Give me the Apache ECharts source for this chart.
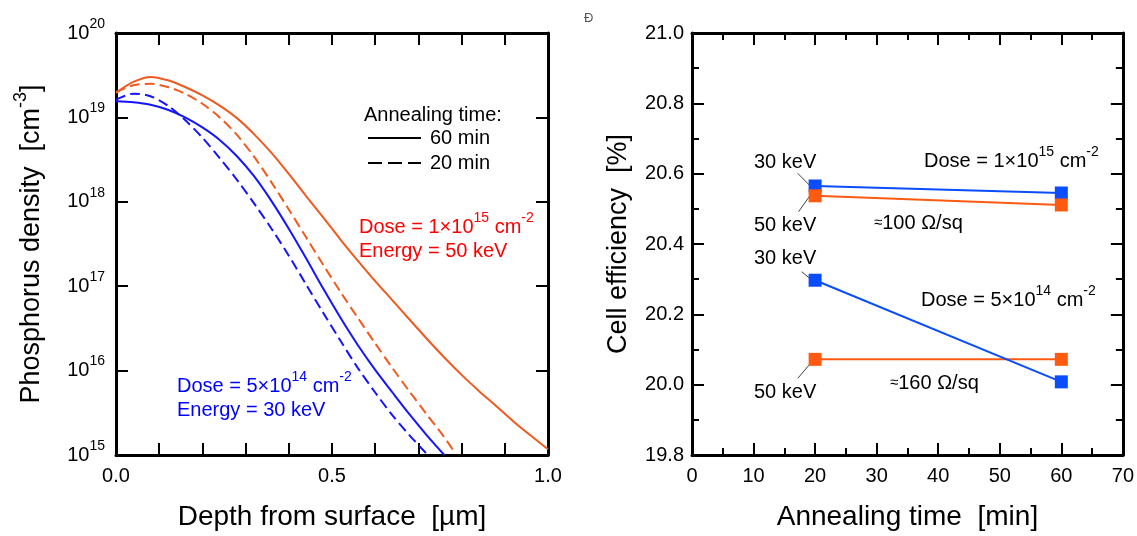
<!DOCTYPE html>
<html>
<head>
<meta charset="utf-8">
<script src="https://cdn.jsdelivr.net/npm/echarts@6/dist/echarts.min.js"></script>
<style>
html,body{margin:0;padding:0;background:#fff;}
#c{width:1137px;height:536px;}
</style>
</head>
<body>
<div id="c"></div>
<script>
// ---------- Left panel: phosphorus profiles (depth in µm, density in cm^-3) ----------
const depthO60 = [0,0.04,0.08,0.12,0.16,0.20,0.24,0.28,0.32,0.36,0.40,0.44,0.48,0.52,0.56,0.60,0.64,0.68,0.72,0.76,0.80,0.84,0.88,0.92,0.96,1.00];
const densO60  = [1.95e19,2.63e19,3.02e19,2.75e19,2.29e19,1.82e19,1.38e19,9.8e18,6.3e18,3.8e18,2.14e18,1.17e18,6.5e17,3.55e17,2.0e17,1.15e17,6.8e16,4.0e16,2.37e16,1.43e16,8.9e15,5.75e15,3.8e15,2.5e15,1.7e15,1.17e15];

const depthO20 = [0,0.04,0.08,0.12,0.16,0.20,0.24,0.28,0.32,0.36,0.40,0.44,0.48,0.52,0.56,0.60,0.64,0.68,0.72,0.76,0.78];
const densO20  = [2.0e19,2.4e19,2.5e19,2.29e19,1.91e19,1.45e19,1.0e19,6.2e18,3.4e18,1.7e18,8.1e17,3.8e17,1.78e17,8.5e16,4.2e16,2.1e16,1.07e16,5.6e15,3.0e15,1.62e15,1.15e15];

const depthB60 = [0,0.04,0.08,0.12,0.16,0.20,0.24,0.28,0.32,0.36,0.40,0.44,0.48,0.52,0.56,0.60,0.64,0.68,0.72,0.76];
const densB60  = [1.55e19,1.51e19,1.41e19,1.23e19,1.0e19,7.6e18,5.4e18,3.47e18,2.0e18,1.02e18,4.8e17,2.14e17,9.3e16,4.2e16,2.0e16,1.02e16,5.5e15,3.0e15,1.7e15,1.0e15];

const depthB20 = [0,0.04,0.08,0.12,0.16,0.20,0.24,0.28,0.32,0.36,0.40,0.44,0.48,0.52,0.56,0.60,0.64,0.68,0.72];
const densB20  = [1.62e19,1.91e19,1.78e19,1.38e19,9.3e18,5.75e18,3.3e18,1.82e18,9.5e17,4.8e17,2.3e17,1.05e17,4.8e16,2.24e16,1.07e16,5.5e15,2.95e15,1.7e15,1.02e15];

// ---------- Right panel: cell efficiency vs annealing time ----------
const annealTime = [20, 60];
const eff30keV_1e15 = [20.565, 20.545];
const eff50keV_1e15 = [20.537, 20.511];
const eff30keV_5e14 = [20.297, 20.008];
const eff50keV_5e14 = [20.072, 20.072];

const FONT = 'Liberation Sans, Arial, sans-serif';
const ORANGE = '#f05a1e';
const BLUE = '#1414ff';
const MBLUE = '#0a4dff';
const MORANGE = '#ff5a10';

function pairs(xs, ys){ return xs.map((x,i)=>[x, ys[i]]); }

const chart = echarts.init(document.getElementById('c'), null, {renderer:'canvas'});

const axisLineStyle = {show:true, onZero:false, lineStyle:{color:'#000', width:3}};
const tickStyle = {show:true, inside:true, length:12, lineStyle:{color:'#000', width:2}};
const minorStyle = {show:true, splitNumber:2, length:7, lineStyle:{color:'#000', width:2}};
const lblBase = {color:'#000', fontSize:20, fontFamily:FONT};
const supRich = {
  b:{fontSize:20, lineHeight:32, fontFamily:FONT, color:'#000'},
  s:{fontSize:14, lineHeight:14, verticalAlign:'top', fontFamily:FONT, color:'#000'}
};

function richText(color, size){
  return {
    b:{fontSize:size, lineHeight:size+12, fontFamily:FONT, fill:color, color:color},
    s:{fontSize:Math.round(size*0.68), lineHeight:Math.round(size*0.68), verticalAlign:'top', fontFamily:FONT, fill:color, color:color},
    a:{fontSize:Math.round(size*0.75), lineHeight:size+12, fontFamily:FONT, fill:color, color:color}
  };
}
function txt(x, y, text, color){
  return {type:'text', x:x, y:y, silent:true,
    style:{text:text, fill:color||'#000', fontSize:20, fontFamily:FONT, align:'left', verticalAlign:'middle',
           rich:richText(color||'#000', 20)}};
}
function seg(x1,y1,x2,y2,color,width,dash){
  return {type:'line', silent:true, shape:{x1:x1,y1:y1,x2:x2,y2:y2},
    style:{stroke:color, lineWidth:width, lineDash:dash||null}};
}
const nameStyle = {fontSize:28, fontFamily:FONT, color:'#000'};

const option = {
  animation:false,
  backgroundColor:'#fff',
  grid:[
    {left:116, top:33, width:432, height:426},
    {left:692, top:33, width:431, height:425}
  ],
  xAxis:[
    {gridIndex:0, type:'value', min:0, max:1, interval:0.1, position:'bottom',
     axisLine:axisLineStyle, axisTick:tickStyle, splitLine:{show:false},
     axisLabel:Object.assign({margin:11, formatter:function(v){
        return Math.abs(v*2-Math.round(v*2))<1e-6 ? v.toFixed(1) : '';
     }}, lblBase),
     name:'Depth from surface  [µm]', nameLocation:'middle', nameGap:48, nameTextStyle:nameStyle},
    {gridIndex:0, type:'value', min:0, max:1, interval:0.1, position:'top',
     axisLine:axisLineStyle, axisTick:tickStyle, axisLabel:{show:false}, splitLine:{show:false}},
    {gridIndex:1, type:'value', min:0, max:70, interval:10, position:'bottom',
     axisLine:axisLineStyle, axisTick:tickStyle, minorTick:minorStyle, splitLine:{show:false}, minorSplitLine:{show:false},
     axisLabel:Object.assign({margin:11}, lblBase),
     name:'Annealing time  [min]', nameLocation:'middle', nameGap:48, nameTextStyle:nameStyle},
    {gridIndex:1, type:'value', min:0, max:70, interval:10, position:'top',
     axisLine:axisLineStyle, axisTick:tickStyle, minorTick:minorStyle, axisLabel:{show:false}, splitLine:{show:false}, minorSplitLine:{show:false}}
  ],
  yAxis:[
    {gridIndex:0, type:'log', logBase:10, min:1e15, max:1e20, position:'left',
     axisLine:axisLineStyle, axisTick:tickStyle, splitLine:{show:false},
     axisLabel:{margin:11, formatter:function(v){
        return '{b|10}{s|'+Math.round(Math.log10(v))+'}';
     }, rich:supRich},
     name:'{b|Phosphorus density  [cm}{s|-3}{b|]}', nameLocation:'middle', nameGap:64,
     nameTextStyle:{fontSize:27, fontFamily:FONT, color:'#000', rich:{
        b:{fontSize:27, lineHeight:40, fontFamily:FONT, color:'#000'},
        s:{fontSize:18, lineHeight:18, verticalAlign:'top', fontFamily:FONT, color:'#000'}
     }}},
    {gridIndex:0, type:'log', logBase:10, min:1e15, max:1e20, position:'right',
     axisLine:axisLineStyle, axisTick:tickStyle, axisLabel:{show:false}, splitLine:{show:false}},
    {gridIndex:1, type:'value', min:19.8, max:21.0, interval:0.2, position:'left',
     axisLine:axisLineStyle, axisTick:tickStyle, minorTick:minorStyle, splitLine:{show:false}, minorSplitLine:{show:false},
     axisLabel:Object.assign({margin:8, formatter:function(v){return v.toFixed(1);}}, lblBase),
     name:'Cell efficiency  [%]', nameLocation:'middle', nameGap:60,
     nameTextStyle:{fontSize:27, fontFamily:FONT, color:'#000'}},
    {gridIndex:1, type:'value', min:19.8, max:21.0, interval:0.2, position:'right',
     axisLine:axisLineStyle, axisTick:tickStyle, minorTick:minorStyle, axisLabel:{show:false}, splitLine:{show:false}, minorSplitLine:{show:false}}
  ],
  series:[
    {type:'line', xAxisIndex:0, yAxisIndex:0, data:pairs(depthO60, densO60), showSymbol:false, smooth:0.3, clip:true,
     lineStyle:{color:ORANGE, width:2}},
    {type:'line', xAxisIndex:0, yAxisIndex:0, data:pairs(depthO20, densO20), showSymbol:false, smooth:0.3, clip:true,
     lineStyle:{color:ORANGE, width:2, type:[10,5]}},
    {type:'line', xAxisIndex:0, yAxisIndex:0, data:pairs(depthB60, densB60), showSymbol:false, smooth:0.3, clip:true,
     lineStyle:{color:BLUE, width:2}},
    {type:'line', xAxisIndex:0, yAxisIndex:0, data:pairs(depthB20, densB20), showSymbol:false, smooth:0.3, clip:true,
     lineStyle:{color:BLUE, width:2, type:[10,5]}},

    {type:'line', xAxisIndex:2, yAxisIndex:2, data:pairs(annealTime, eff30keV_1e15), symbol:'rect', symbolSize:13,
     lineStyle:{color:MBLUE, width:2}, itemStyle:{color:MBLUE}},
    {type:'line', xAxisIndex:2, yAxisIndex:2, data:pairs(annealTime, eff50keV_1e15), symbol:'rect', symbolSize:13,
     lineStyle:{color:MORANGE, width:2}, itemStyle:{color:MORANGE}},
    {type:'line', xAxisIndex:2, yAxisIndex:2, data:pairs(annealTime, eff50keV_5e14), symbol:'rect', symbolSize:13,
     lineStyle:{color:MORANGE, width:2}, itemStyle:{color:MORANGE}},
    {type:'line', xAxisIndex:2, yAxisIndex:2, data:pairs(annealTime, eff30keV_5e14), symbol:'rect', symbolSize:13,
     lineStyle:{color:MBLUE, width:2}, itemStyle:{color:MBLUE}}
  ],
  graphic:[
    // left legend
    txt(364, 115, '{b|Annealing time:}'),
    seg(368, 138, 421, 138, '#000', 2),
    txt(430, 138, '{b|60 min}'),
    seg(368, 163, 421, 163, '#000', 2, [14,6]),
    txt(430, 163, '{b|20 min}'),
    // left annotations
    txt(359, 227, '{b|Dose = 1×10}{s|15}{b| cm}{s|-2}', '#ff0000'),
    txt(359, 251, '{b|Energy = 50 keV}', '#ff0000'),
    txt(177, 386, '{b|Dose = 5×10}{s|14}{b| cm}{s|-2}', '#0000ff'),
    txt(177, 410, '{b|Energy = 30 keV}', '#0000ff'),
    // right annotations
    txt(754, 162, '{b|30 keV}'),
    txt(924, 161, '{b|Dose = 1×10}{s|15}{b| cm}{s|-2}'),
    txt(754, 225, '{b|50 keV}'),
    txt(874, 223, '{a|≈}{b|100 Ω/sq}'),
    txt(754, 258, '{b|30 keV}'),
    txt(921, 300, '{b|Dose = 5×10}{s|14}{b| cm}{s|-2}'),
    txt(754, 392, '{b|50 keV}'),
    txt(890, 383, '{a|≈}{b|160 Ω/sq}'),
    // leader lines
    seg(797.7, 173.3, 809.3, 185, '#444', 1),
    seg(811.6, 193.3, 798.6, 211.7, '#444', 1),
    seg(801.7, 271.7, 811.7, 280, '#444', 1),
    seg(810.5, 363.3, 797.8, 378.3, '#444', 1),
    // small stray glyph
    {type:'text', x:584, y:18, silent:true, style:{text:'Ð', fill:'#555', fontSize:13, fontFamily:FONT, align:'left', verticalAlign:'middle'}}
  ]
};
chart.setOption(option);
</script>
</body>
</html>
